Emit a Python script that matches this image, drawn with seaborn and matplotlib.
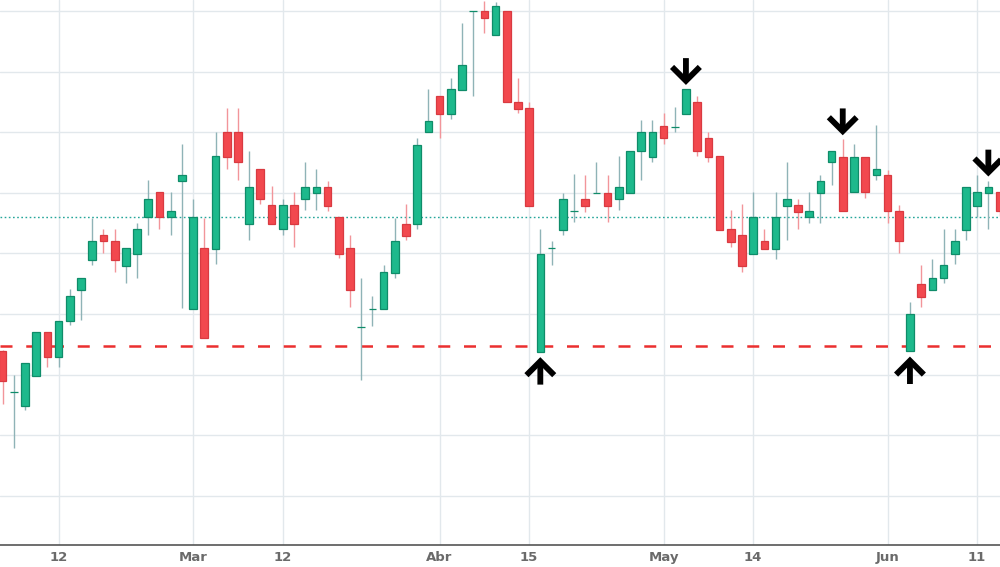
import numpy as np
import pandas as pd
import matplotlib.pyplot as plt
import seaborn as sns

# daily candles (one per trading bar)
opens = [14.39, 13.71, 13.49, 13.98, 14.70, 14.29, 14.88, 15.39, 15.89, 16.30,
         16.21, 15.80, 15.99, 16.60, 17.01, 16.60, 17.19, 15.09, 16.09, 16.08,
         18.00, 18.00, 16.49, 17.39, 16.80, 16.40, 16.80, 16.89, 17.00, 17.10,
         16.60, 16.09, 14.79, 15.09, 15.09, 15.68, 16.49, 16.49, 18.00, 18.59,
         18.30, 18.70, 20.00, 20.00, 19.60, 20.00, 18.50, 18.40, 14.38, 16.09,
         16.39, 16.70, 16.89, 17.00, 17.00, 16.89, 17.00, 17.69, 17.59, 18.10,
         18.09, 18.30, 18.50, 17.91, 17.61, 16.40, 16.30, 15.99, 16.20, 16.08,
         16.79, 16.80, 16.60, 17.00, 17.50, 17.59, 17.01, 17.59, 17.29, 17.29,
         16.70, 14.39, 15.50, 15.39, 15.59, 15.99, 16.39, 16.79, 17.00, 17.01]
highs = [14.40, 13.99, 14.20, 14.70, 14.70, 14.89, 15.41, 15.60, 16.59, 16.40,
         16.40, 16.09, 16.50, 17.21, 17.01, 17.02, 17.80, 16.90, 16.58, 18.00,
         18.40, 18.40, 17.69, 17.39, 17.11, 16.90, 17.01, 17.51, 17.39, 17.19,
         16.60, 16.30, 15.60, 15.30, 15.81, 16.59, 16.81, 17.91, 18.71, 18.59,
         18.90, 19.80, 20.00, 20.16, 20.15, 20.00, 18.90, 18.49, 16.40, 16.21,
         17.00, 17.31, 17.30, 17.50, 17.30, 17.61, 17.69, 18.20, 18.20, 18.31,
         18.41, 18.71, 18.60, 18.01, 17.61, 16.71, 16.81, 17.02, 16.40, 17.02,
         17.50, 16.89, 17.01, 17.29, 17.69, 17.88, 17.80, 17.59, 18.11, 17.37,
         16.80, 15.20, 15.81, 15.90, 16.40, 16.40, 17.10, 17.29, 17.20, 17.01]
lows = [13.51, 12.79, 13.41, 13.98, 14.12, 14.12, 14.82, 14.90, 15.81, 16.01,
        15.70, 15.51, 15.60, 16.31, 16.41, 16.31, 15.10, 15.09, 14.60, 15.82,
        17.40, 17.21, 16.22, 16.81, 16.48, 16.31, 16.10, 16.71, 16.71, 16.70,
        15.92, 15.11, 13.91, 14.80, 15.09, 15.60, 16.22, 16.40, 18.00, 17.91,
        18.21, 18.70, 18.60, 19.63, 19.60, 18.49, 18.31, 16.79, 14.38, 15.81,
        16.30, 16.51, 16.68, 17.00, 16.51, 16.71, 17.00, 17.21, 17.51, 17.80,
        18.01, 18.30, 17.61, 17.51, 16.39, 16.10, 15.70, 15.99, 16.08, 15.91,
        16.22, 16.41, 16.50, 16.50, 17.13, 16.70, 17.01, 16.91, 17.21, 16.50,
        16.00, 14.39, 15.11, 15.39, 15.51, 15.82, 16.22, 16.60, 16.40, 16.62]
closes = [13.89, 13.71, 14.20, 14.70, 14.29, 14.89, 15.30, 15.60, 16.21, 16.20,
          15.89, 16.09, 16.40, 16.89, 16.60, 16.70, 17.29, 16.60, 14.60, 17.60,
          17.59, 17.50, 17.10, 16.89, 16.48, 16.80, 16.48, 17.10, 17.10, 16.79,
          15.99, 15.39, 14.79, 15.09, 15.69, 16.21, 16.29, 17.79, 18.19, 18.30,
          18.71, 19.11, 20.00, 19.89, 20.08, 18.49, 18.39, 16.79, 15.99, 16.09,
          16.89, 16.70, 16.79, 17.00, 16.79, 17.10, 17.69, 18.00, 18.00, 17.90,
          18.09, 18.71, 17.69, 17.59, 16.39, 16.19, 15.80, 16.60, 16.08, 16.60,
          16.89, 16.69, 16.70, 17.20, 17.69, 16.70, 17.59, 17.01, 17.39, 16.70,
          16.20, 15.00, 15.28, 15.59, 15.81, 16.20, 17.10, 17.01, 17.10, 16.70]

tick_bars = [5, 17, 25, 39, 47, 59, 67, 79, 87]
tick_labels = ["12", "Mar", "12", "Abr", "15", "May", "14", "Jun", "11"]

last_price = 16.60
support = 14.47
top_bars = [61, 75, 88]      # down arrows above these candles
bottom_bars = [48, 81]       # up arrows below these candles

df = pd.DataFrame({"open": opens, "high": highs, "low": lows, "close": closes})
df["bar"] = np.arange(len(df))
df["up"] = df["close"] >= df["open"]

GREEN, GREEN_EDGE, GREEN_WICK = "#1db98c", "#0f8c69", "#8fb3b7"
RED, RED_EDGE, RED_WICK = "#f2484e", "#d93a41", "#f2959a"

sns.set_theme(style="white")

fig = plt.figure(figsize=(10, 5.67), dpi=100)
ax = fig.add_axes([0, 22 / 567, 1, 545 / 567])

# reference lines
ax.axhline(last_price, color="#26a69a", lw=1, ls=(0, (1.2, 1.8)), zorder=1)
ax.axhline(support, color="#eb2f2f", lw=1.8, ls=(0, (4.8, 5.5)), zorder=1)

# wicks
ax.vlines(df["bar"], df["low"], df["high"],
          colors=np.where(df["up"], GREEN_WICK, RED_WICK), lw=1, zorder=2)

# bodies
body_lo = df[["open", "close"]].min(axis=1)
body_h = (df["close"] - df["open"]).abs()
ax.bar(df["bar"], body_h, bottom=body_lo, width=0.68,
       color=np.where(df["up"], GREEN, RED),
       edgecolor=np.where(df["up"], GREEN_EDGE, RED_EDGE),
       lw=0.9, zorder=3)

# swing markers
arrow_style = "->,head_length=0.5,head_width=0.5"
arrow_kw = dict(arrowstyle=arrow_style, lw=4.2, color="black",
                mutation_scale=20, shrinkA=0, joinstyle="miter",
                capstyle="butt")
for b in top_bars:
    ax.annotate("", xy=(b, df.loc[b, "high"]), xycoords="data",
                xytext=(0, 31), textcoords="offset pixels",
                arrowprops=dict(arrow_kw, shrinkB=3), zorder=5)
for b in bottom_bars:
    ax.annotate("", xy=(b, df.loc[b, "low"]), xycoords="data",
                xytext=(0, -33), textcoords="offset pixels",
                arrowprops=dict(arrow_kw, shrinkB=4), zorder=5)

ax.set_xlim(-0.24, 89.04)
ax.set_ylim(11.19, 20.18)
ax.set_yticks(np.arange(12, 21))
ax.set_yticklabels([])
ax.set_xticks(tick_bars)
ax.set_xticklabels(tick_labels)
ax.grid(True, color="#e2e8ec", lw=1, zorder=0)
ax.set_axisbelow(True)

for side in ["top", "left", "right"]:
    ax.spines[side].set_visible(False)
ax.spines["bottom"].set_color("#555555")
ax.spines["bottom"].set_linewidth(1.2)
ax.tick_params(axis="x", direction="out", length=3, width=1, color="#555555",
               pad=1, labelsize=9.5, labelcolor="#6a6a6a")
ax.tick_params(axis="y", length=0)
for lbl in ax.get_xticklabels():
    lbl.set_fontweight("bold")

fig.savefig("out.png", dpi=100)
